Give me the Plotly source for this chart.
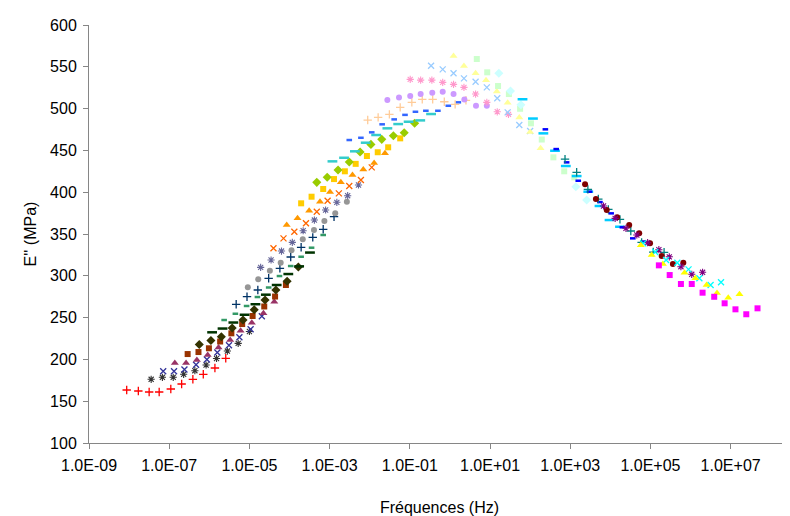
import numpy as np
import plotly.graph_objects as go

# ---- data: log10(frequency in Hz) and E'' (MPa) for each isotherm ----
red_logf = [-8.06, -7.77, -7.50, -7.25, -6.96, -6.69, -6.41, -6.15, -5.86, -5.59]
red_E = [163.4, 162.2, 161.0, 161.0, 164.6, 170.6, 176.2, 182.2, 189.7, 201.3]

gray80_logf = [-7.45, -7.17, -6.90, -6.64, -6.36, -6.08, -5.82, -5.55, -5.28, -5.00]
gray80_E = [176.2, 178.6, 178.6, 182.2, 186.5, 193.3, 201.1, 210.0, 219.2, 233.4]

indigo_logf = [-7.15, -6.88, -6.62, -6.33, -6.06, -5.80, -5.51, -5.25, -4.97, -4.69]
indigo_E = [185.8, 185.8, 187.9, 193.5, 199.9, 208.2, 217.0, 226.4, 236.0, 251.7]

plum_logf = [-6.86, -6.58, -6.31, -6.04, -5.77, -5.48, -5.22, -4.94, -4.65, -4.38]
plum_E = [195.7, 195.7, 199.3, 205.2, 214.2, 223.2, 234.3, 243.9, 255.1, 269.0]

brown_logf = [-6.54, -6.27, -6.01, -5.73, -5.45, -5.18, -4.92, -4.63, -4.36, -4.09]
brown_E = [206.4, 208.8, 213.3, 221.4, 231.2, 242.3, 251.9, 263.3, 275.2, 289.0]

olive_logf = [-6.25, -5.96, -5.70, -5.43, -5.16, -4.88, -4.61, -4.34, -4.06, -3.78]
olive_E = [217.8, 222.6, 227.1, 237.5, 247.1, 259.4, 271.0, 283.0, 293.4, 310.5]

dkgreen_logf = [-5.93, -5.67, -5.40, -5.12, -4.85, -4.59, -4.32, -4.03, -3.76, -3.49]
dkgreen_E = [232.4, 236.9, 244.1, 253.4, 266.0, 277.4, 289.0, 302.1, 311.3, 327.8]

seagreen_logf = [-5.63, -5.35, -5.07, -4.80, -4.52, -4.25, -3.97, -3.71, -3.45, -3.16]
seagreen_E = [247.1, 254.6, 263.9, 274.6, 286.0, 299.7, 311.7, 322.8, 333.6, 348.8]

dkteal_logf = [-5.33, -5.06, -4.79, -4.52, -4.24, -3.97, -3.71, -3.42, -3.16, -2.89]
dkteal_E = [265.9, 275.0, 283.0, 297.0, 308.9, 322.5, 334.1, 346.0, 355.6, 370.7]

gray40_logf = [-5.04, -4.78, -4.49, -4.22, -3.95, -3.67, -3.39, -3.13, -2.86, -2.57]
gray40_E = [286.3, 295.8, 306.1, 315.6, 330.5, 343.6, 354.7, 365.5, 374.7, 388.6]

bluegray_logf = [-4.72, -4.46, -4.20, -3.93, -3.66, -3.38, -3.10, -2.82, -2.55, -2.28]
bluegray_E = [310.1, 318.9, 329.6, 340.0, 353.9, 366.7, 378.7, 387.9, 395.8, 408.6]

orange_logf = [-4.40, -4.15, -3.88, -3.59, -3.32, -3.05, -2.77, -2.51, -2.22, -1.95]
orange_E = [332.9, 344.8, 352.7, 362.8, 376.6, 389.8, 398.6, 407.4, 414.5, 429.7]

ltorange_logf = [-4.07, -3.80, -3.51, -3.24, -2.99, -2.72, -2.43, -2.16, -1.89, -1.62]
ltorange_E = [360.7, 368.7, 377.8, 388.6, 400.2, 411.8, 420.5, 427.3, 434.9, 446.5]

gold_logf = [-3.71, -3.45, -3.16, -2.89, -2.62, -2.35, -2.07, -1.80, -1.54, -1.24]
gold_E = [386.7, 394.6, 403.8, 415.7, 425.0, 433.9, 443.3, 447.8, 453.7, 464.4]

lime_logf = [-3.32, -3.06, -2.79, -2.51, -2.24, -1.97, -1.70, -1.41, -1.14, -0.88]
lime_E = [411.8, 417.8, 426.5, 436.1, 448.0, 457.2, 463.2, 467.5, 471.1, 482.5]

aqua_logf = [-2.93, -2.64, -2.37, -2.10, -1.84, -1.56, -1.29, -1.03, -0.74, -0.47]
aqua_E = [436.9, 441.2, 448.9, 459.2, 468.4, 476.4, 481.5, 484.3, 485.9, 493.5]

ltblue_logf = [-2.51, -2.22, -1.95, -1.69, -1.39, -1.12, -0.86, -0.60, -0.30, -0.04, 0.21]
ltblue_E = [462.4, 465.1, 471.6, 481.2, 487.1, 492.5, 496.2, 497.4, 497.4, 503.4, 507.5]

tan_logf = [-2.05, -1.79, -1.51, -1.24, -0.95, -0.69, -0.43, -0.14, 0.13, 0.40]
tan_E = [486.3, 489.5, 493.1, 501.5, 507.5, 511.0, 511.0, 508.2, 505.1, 509.9]

lavender_logf = [-1.56, -1.27, -0.99, -0.73, -0.44, -0.18, 0.09, 0.36, 0.65, 0.92]
lavender_E = [510.2, 513.2, 515.0, 517.4, 519.0, 520.2, 517.4, 511.0, 503.4, 503.4]

rose_logf = [-0.99, -0.73, -0.45, -0.18, 0.09, 0.35, 0.64, 0.92, 1.18, 1.46]
rose_E = [535.0, 534.1, 534.1, 531.4, 529.0, 525.4, 517.4, 507.5, 496.2, 493.1]

paleblue_logf = [-0.47, -0.18, 0.09, 0.35, 0.64, 0.92, 1.18, 1.44, 1.73, 2.00]
paleblue_E = [551.2, 546.9, 542.2, 536.2, 532.1, 525.4, 512.3, 495.5, 480.3, 473.2]

ltyellow_logf = [0.09, 0.35, 0.64, 0.90, 1.17, 1.44, 1.73, 2.00, 2.26]
ltyellow_E = [562.9, 551.1, 542.2, 533.8, 520.6, 507.0, 489.5, 472.0, 452.5]

ltgreen_logf = [0.67, 0.93, 1.20, 1.47, 1.75, 2.02, 2.29, 2.58, 2.85, 3.10]
ltgreen_E = [559.3, 543.4, 527.0, 517.4, 499.8, 482.4, 463.0, 441.7, 425.0, 417.8]

ltturq_logf = [1.22, 1.51, 1.77, 3.14, 3.41]
ltturq_E = [542.2, 521.0, 504.6, 406.5, 390.6]

skyblue_logf = [1.81, 2.07, 2.33, 2.62, 2.89, 3.16, 3.45, 3.73, 3.98, 4.24]
skyblue_E = [511.2, 488.1, 470.4, 449.6, 431.3, 419.3, 400.6, 383.5, 366.7, 358.7]

blue_logf = [2.38, 2.65, 2.91, 3.20, 3.48, 3.74, 4.02, 4.30, 4.56, 4.82]
blue_E = [475.2, 451.6, 435.7, 413.7, 400.6, 388.2, 374.7, 358.0, 344.8, 341.0]

teal_logf = [2.87, 3.16, 3.44, 3.70, 3.95, 4.24, 4.51, 4.78, 5.07, 5.34]
teal_E = [439.6, 423.8, 403.4, 391.8, 379.5, 367.5, 353.6, 340.0, 328.4, 328.1]

dkred_logf = [3.37, 3.64, 3.91, 4.17, 4.47, 4.72, 4.99, 5.28, 5.56, 5.82]
dkred_E = [409.4, 391.8, 378.7, 369.9, 360.7, 350.8, 338.8, 323.7, 314.1, 315.6]

purple_logf = [3.83, 4.12, 4.39, 4.66, 4.93, 5.21, 5.47, 5.76, 6.03, 6.30]
purple_E = [383.5, 368.7, 356.8, 348.8, 339.6, 331.2, 322.7, 310.9, 301.8, 304.2]

cyan_logf = [4.82, 5.12, 5.39, 5.67, 5.95, 6.22, 6.50, 6.76]
cyan_E = [338.8, 328.4, 318.9, 315.6, 307.7, 297.0, 289.0, 292.2]

yellow_logf = [4.76, 5.03, 5.31, 5.85, 6.12, 6.40, 6.66, 6.94, 7.22]
yellow_E = [336.4, 324.8, 314.1, 303.7, 297.0, 289.0, 279.4, 273.8, 277.8]

magenta_logf = [5.21, 5.48, 5.76, 6.03, 6.30, 6.59, 6.85, 7.12, 7.39, 7.67]
magenta_E = [312.5, 300.9, 290.2, 290.2, 279.8, 274.9, 267.1, 259.9, 254.0, 261.1]

tick_vals = [1e-9, 1e-7, 1e-5, 1e-3, 1e-1, 1e1, 1e3, 1e5, 1e7]
tick_text = ["1.0E-09", "1.0E-07", "1.0E-05", "1.0E-03", "1.0E-01",
             "1.0E+01", "1.0E+03", "1.0E+05", "1.0E+07"]

# ---- styles (Excel default marker cycle) ----
series = [
    (red_logf, red_E, "#FF0000", "plus"),
    (gray80_logf, gray80_E, "#333333", "star"),
    (indigo_logf, indigo_E, "#333399", "x"),
    (plum_logf, plum_E, "#993366", "triangle"),
    (brown_logf, brown_E, "#993300", "square"),
    (olive_logf, olive_E, "#333300", "diamond"),
    (dkgreen_logf, dkgreen_E, "#003300", "dash"),
    (seagreen_logf, seagreen_E, "#339966", "sdash"),
    (dkteal_logf, dkteal_E, "#003366", "plus"),
    (gray40_logf, gray40_E, "#969696", "circle"),
    (bluegray_logf, bluegray_E, "#666699", "star"),
    (orange_logf, orange_E, "#FF6600", "x"),
    (ltorange_logf, ltorange_E, "#FF9900", "triangle"),
    (gold_logf, gold_E, "#FFCC00", "square"),
    (lime_logf, lime_E, "#99CC00", "diamond"),
    (aqua_logf, aqua_E, "#33CCCC", "dash"),
    (ltblue_logf, ltblue_E, "#3366FF", "sdash"),
    (tan_logf, tan_E, "#FFCC99", "plus"),
    (lavender_logf, lavender_E, "#CC99FF", "circle"),
    (rose_logf, rose_E, "#FF99CC", "star"),
    (paleblue_logf, paleblue_E, "#99CCFF", "x"),
    (ltyellow_logf, ltyellow_E, "#FFFF99", "triangle"),
    (ltgreen_logf, ltgreen_E, "#CCFFCC", "square"),
    (ltturq_logf, ltturq_E, "#CCFFFF", "diamond"),
    (skyblue_logf, skyblue_E, "#00CCFF", "dash"),
    (blue_logf, blue_E, "#0000FF", "sdash"),
    (teal_logf, teal_E, "#008080", "plus"),
    (dkred_logf, dkred_E, "#800000", "circle"),
    (purple_logf, purple_E, "#800080", "star"),
    (cyan_logf, cyan_E, "#00FFFF", "x"),
    (yellow_logf, yellow_E, "#FFFF00", "triangle"),
    (magenta_logf, magenta_E, "#FF00FF", "square"),
]


def marker_for(kind, color):
    if kind == "plus":
        return dict(symbol="cross-thin", size=6, color=color, line=dict(color=color, width=1.3))
    if kind == "x":
        return dict(symbol="x-thin", size=6, color=color, line=dict(color=color, width=1.3))
    if kind == "star":
        return dict(symbol="asterisk", size=6, color=color, line=dict(color=color, width=1.1))
    if kind == "dash":
        return dict(symbol="line-ew", size=7, color=color, line=dict(color=color, width=2.5))
    if kind == "sdash":
        return dict(symbol="line-ew", size=4, color=color, line=dict(color=color, width=2.5))
    if kind == "triangle":
        return dict(symbol="triangle-up", size=7, color=color, line=dict(width=0))
    if kind == "diamond":
        return dict(symbol="diamond", size=7, color=color, line=dict(width=0))
    if kind == "square":
        return dict(symbol="square", size=6, color=color, line=dict(width=0))
    return dict(symbol="circle", size=6, color=color, line=dict(width=0))


fig = go.Figure()
for lf, e, color, kind in series:
    fig.add_trace(go.Scatter(
        x=10 ** np.array(lf), y=e, mode="markers",
        marker=marker_for(kind, color), showlegend=False, hoverinfo="x+y",
    ))

tick_font = dict(family="Liberation Sans, Arial, sans-serif", size=16, color="#000000")
title_font = dict(family="Liberation Sans, Arial, sans-serif", size=16, color="#000000")

fig.update_layout(
    width=782, height=508,
    margin=dict(l=81, r=0, t=17, b=73),
    paper_bgcolor="white", plot_bgcolor="white",
    font=tick_font,
    xaxis=dict(
        type="log", range=[-9, 8.48],
        tickvals=tick_vals, ticktext=tick_text,
        showgrid=False, zeroline=False,
        showline=True, linecolor="#868686", linewidth=1,
        ticks="outside", ticklen=5, tickcolor="#868686",
        tickfont=tick_font, ticklabelstandoff=3,
        title=dict(text="Fréquences (Hz)", font=title_font, standoff=29),
        automargin=False,
    ),
    yaxis=dict(
        range=[100, 600], dtick=50, tick0=100,
        showgrid=False, zeroline=False,
        showline=True, linecolor="#868686", linewidth=1,
        ticks="outside", ticklen=5, tickcolor="#868686",
        tickfont=tick_font, ticklabelstandoff=3,
        title=dict(text="E'' (MPa)", font=title_font, standoff=9),
        automargin=False,
    ),
)

fig.write_html("out.html")
